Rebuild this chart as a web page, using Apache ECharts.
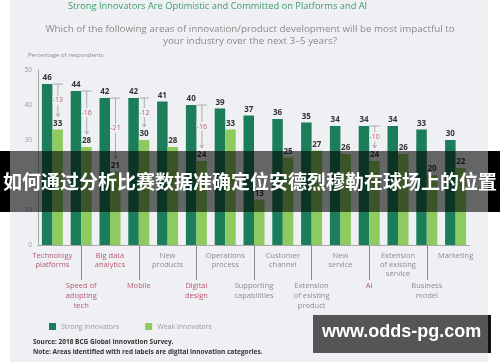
<!DOCTYPE html>
<html><head><meta charset="utf-8">
<script src="https://cdn.jsdelivr.net/npm/echarts@6/dist/echarts.min.js"></script>
<style>html,body{margin:0;padding:0;background:#fff}#c{width:500px;height:362px}</style>
</head><body><div id="c"></div>
<script>
const categories = ['Technology\nplatforms','Speed of\nadopting\ntech','Big data\nanalytics','Mobile','New\nproducts','Digital\ndesign','Operations\nprocess','Supporting\ncapabilities','Customer\nchannel','Extension\nof existing\nproduct','New\nservice','AI','Extension\nof existing\nservice','Business\nmodel','Marketing'];
const strongInnovators = [46,44,42,42,41,40,39,37,36,35,34,34,34,33,30];
const weakInnovators = [33,28,21,30,28,24,33,13,25,27,26,24,26,20,22];
const digitalIdx = [0,1,2,3,5,11];
const yTicks = [0,10,20,30,40,50];

const FONT = '"Open Sans", "Noto Sans", sans-serif';
const BG = '#eff0f3';
const STRONG = '#1b7d59';
const WEAK = '#8dca5f';
const RED = '#b85a72';
const GREY = '#8c8c8c';

const gapData = digitalIdx.map(i => [i, strongInnovators[i], weakInnovators[i], '-' + (strongInnovators[i] - weakInnovators[i])]);

const chart = echarts.init(document.getElementById('c'), null, {renderer:'canvas'});
const rich = {
  sp: {lineHeight: 29.5, fontSize: 6},
  ar: {lineHeight: 9, fontSize: 7.5, color: RED, fontFamily: FONT},
  ag: {lineHeight: 9, fontSize: 7.5, color: GREY, fontFamily: FONT},
  br: {lineHeight: 10, fontSize: 7.5, color: RED, fontFamily: FONT},
  bg: {lineHeight: 10, fontSize: 7.5, color: GREY, fontFamily: FONT}
};
chart.setOption({
  backgroundColor: '#ffffff',
  animation: false,
  grid: {left: 38, right: 30, top: 70, bottom: 117},
  legend: {
    left: 44, top: 318, itemWidth: 7, itemHeight: 7, itemGap: 26, icon: 'rect',
    textStyle: {fontSize: 7, color: '#9a9a9a', fontFamily: FONT},
    data: ['Strong innovators', 'Weak innovators']
  },
  xAxis: {
    type: 'category', data: categories,
    axisLine: {lineStyle: {color: '#a8a8a8', width: 1}},
    axisTick: {show: true, alignWithLabel: true, length: 35, interval: (idx) => idx % 2 === 1, lineStyle: {color: '#8a8a8a'}},
    axisLabel: {
      interval: 0, margin: 6.5,
      formatter: (value, index) => {
        const key = (index % 2 ? 'b' : 'a') + (digitalIdx.includes(index) ? 'r' : 'g');
        const lines = value.split('\n').map(l => '{' + key + '|' + l + '}').join('\n');
        return (index % 2 ? '{sp| }\n' : '') + lines;
      },
      rich: rich
    }
  },
  yAxis: {
    type: 'value', min: yTicks[0], max: yTicks[yTicks.length-1], interval: 10,
    axisLine: {show: true, lineStyle: {color: '#a8a8a8'}},
    axisTick: {show: false},
    splitLine: {show: false},
    axisLabel: {fontSize: 6.5, color: '#9a9a9a', margin: 6, fontFamily: FONT}
  },
  graphic: [
    {type: 'rect', z: -10, shape: {x: 10, y: 0, width: 478, height: 362}, style: {fill: BG}},
    {type: 'text', z: 5, left: 68, top: 2, style: {text: 'Strong Innovators Are Optimistic and Committed on Platforms and AI', fill: '#3f9a6c', font: '9.3px ' + FONT}},
    {type: 'text', z: 5, left: 'center', top: 23, style: {text: 'Which of the following areas of innovation/product development will be most impactful to\nyour industry over the next 3–5 years?', fill: '#8a8a8a', font: '9.8px ' + FONT, textAlign: 'center', lineHeight: 12}},
    {type: 'text', z: 5, left: 28, top: 52, style: {text: 'Percentage of respondents', fill: '#8a8a8a', font: '6px ' + FONT}},
    {type: 'text', z: 5, left: 33, top: 337, style: {text: 'Source: 2018 BCG Global Innovation Survey.\nNote: Areas identified with red labels are digital innovation categories.', fill: '#333', font: 'bold 6.5px ' + FONT, lineHeight: 10}},
    {type: 'rect', z: 100, shape: {x: 0, y: 151, width: 500, height: 61}, style: {fill: 'rgba(0,0,0,0.58)'}},
    {type: 'rect', z: 100, shape: {x: 0, y: 151, width: 10, height: 61}, style: {fill: '#000'}},
    {type: 'rect', z: 100, shape: {x: 488, y: 151, width: 12, height: 61}, style: {fill: '#000'}},
    {type: 'text', z: 101, left: 'center', top: 172, style: {text: '如何通过分析比赛数据准确定位安德烈穆勒在球场上的位置', fill: '#fff', font: 'bold 19px "Noto Sans CJK SC", sans-serif'}},
    {type: 'rect', z: 100, shape: {x: 313, y: 315, width: 175, height: 38}, style: {fill: '#555'}},
    {type: 'rect', z: 100, shape: {x: 488, y: 315, width: 3, height: 38}, style: {fill: '#111'}},
    {type: 'text', z: 101, left: 322, top: 323, style: {text: 'www.odds-pg.com', fill: '#fff', font: 'bold 18px "Liberation Sans", sans-serif'}}
  ],
  series: [
    {name: 'Strong innovators', type: 'bar', data: strongInnovators, barWidth: 10.5, barGap: 0, itemStyle: {color: STRONG},
     label: {show: true, position: 'top', distance: 2, fontSize: 8, fontWeight: 'bold', color: '#333', fontFamily: FONT}},
    {name: 'Weak innovators', type: 'bar', data: weakInnovators, barWidth: 10.5, barGap: 0, itemStyle: {color: WEAK},
     label: {show: true, position: 'top', distance: 2, fontSize: 8, fontWeight: 'bold', color: '#333', fontFamily: FONT}},
    {type: 'custom', coordinateSystem: 'cartesian2d', z: 5, data: gapData, encode: {x: 0, y: [1, 2]},
     renderItem: (params, api) => {
       const i = api.value(0);
       const ps = api.coord([i, api.value(1)]);
       const pw = api.coord([i, api.value(2)]);
       const x = ps[0] + 5.5;
       const y1 = ps[1];
       const y2 = pw[1] - 13;
       const mid = (y1 + y2) / 2;
       const ls = {stroke: '#9a9a9a', lineWidth: 0.8};
       return {type: 'group', children: [
         {type: 'line', shape: {x1: x - 5, y1: y1, x2: x + 5, y2: y1}, style: ls},
         {type: 'line', shape: {x1: x, y1: y1, x2: x, y2: y2}, style: ls},
         {type: 'polyline', shape: {points: [[x - 2, y2 - 3], [x, y2], [x + 2, y2 - 3]]}, style: {stroke: '#9a9a9a', lineWidth: 0.8, fill: null}},
         {type: 'text', style: {x: x, y: mid, text: api.value(3), fill: RED, font: '7px ' + FONT, align: 'center', verticalAlign: 'middle', backgroundColor: BG, padding: [1, 0]}}
       ]};
     }}
  ]
});
</script></body></html>
